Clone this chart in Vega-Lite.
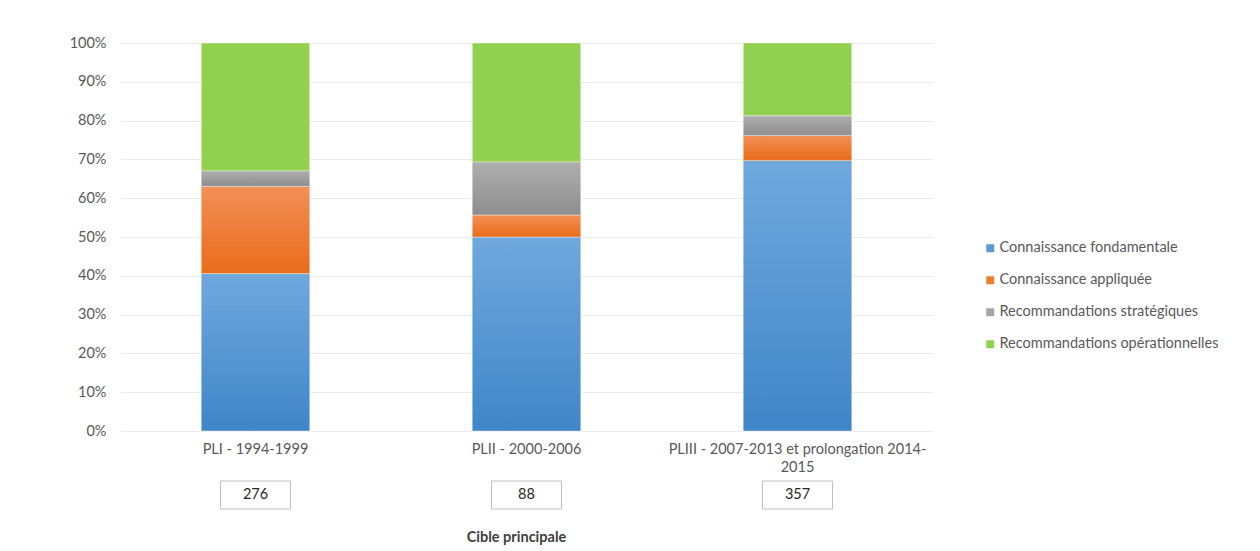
{
  "$schema": "https://vega.github.io/schema/vega-lite/v6.json",
  "width": 813,
  "height": 388,
  "autosize": "none",
  "padding": {"left": 120, "top": 43, "right": 327, "bottom": 120},
  "background": "#ffffff",
  "config": {
    "view": {"stroke": null},
    "font": "Lato",
    "axis": {"labelFont": "Lato", "titleFont": "Lato", "labelColor": "#595959", "titleColor": "#404040"},
    "axisY": {
      "title": null,
      "format": ".0%",
      "values": [0, 0.1, 0.2, 0.3, 0.4, 0.5, 0.6, 0.7, 0.8, 0.9, 1],
      "labelOverlap": false,
      "labelFontSize": 14.5,
      "labelPadding": 14,
      "ticks": false,
      "domain": false,
      "gridColor": "#ebebeb",
      "gridWidth": 1
    },
    "legend": {"labelFont": "Lato"}
  },
  "datasets": {
    "parts": [
      {"periode": "PLI - 1994-1999", "serie": "Connaissance fondamentale", "n": 112},
      {"periode": "PLI - 1994-1999", "serie": "Connaissance appliquée", "n": 62},
      {"periode": "PLI - 1994-1999", "serie": "Recommandations stratégiques", "n": 11},
      {"periode": "PLI - 1994-1999", "serie": "Recommandations opérationnelles", "n": 91},
      {"periode": "PLII - 2000-2006", "serie": "Connaissance fondamentale", "n": 44},
      {"periode": "PLII - 2000-2006", "serie": "Connaissance appliquée", "n": 5},
      {"periode": "PLII - 2000-2006", "serie": "Recommandations stratégiques", "n": 12},
      {"periode": "PLII - 2000-2006", "serie": "Recommandations opérationnelles", "n": 27},
      {"periode": "PLIII - 2007-2013 et prolongation 2014-2015", "serie": "Connaissance fondamentale", "n": 249},
      {"periode": "PLIII - 2007-2013 et prolongation 2014-2015", "serie": "Connaissance appliquée", "n": 23},
      {"periode": "PLIII - 2007-2013 et prolongation 2014-2015", "serie": "Recommandations stratégiques", "n": 18},
      {"periode": "PLIII - 2007-2013 et prolongation 2014-2015", "serie": "Recommandations opérationnelles", "n": 67}
    ],
    "totals": [
      {"periode": "PLI - 1994-1999", "total": 276},
      {"periode": "PLII - 2000-2006", "total": 88},
      {"periode": "PLIII - 2007-2013 et prolongation 2014-2015", "total": 357}
    ]
  },
  "encoding": {
    "x": {
      "field": "periode",
      "type": "nominal",
      "sort": null,
      "scale": {"paddingInner": 0.6, "paddingOuter": 0.3},
      "axis": {
        "title": "Cible principale",
        "titleFontWeight": "bold",
        "titleFontSize": 14.5,
        "titleX": 396,
        "titleY": 106,
        "titleBaseline": "middle",
        "labelAngle": 0,
        "labelFontSize": 14.5,
        "labelPadding": 11,
        "labelLimit": 400,
        "labelLineHeight": 18,
        "ticks": false,
        "domain": false,
        "grid": false,
        "labelExpr": "datum.label == 'PLIII - 2007-2013 et prolongation 2014-2015' ? ['PLIII - 2007-2013 et prolongation 2014-', '2015'] : datum.label"
      }
    }
  },
  "layer": [
    {
      "data": {"name": "parts"},
      "transform": [
        {"calculate": "indexof(['Connaissance fondamentale', 'Connaissance appliquée', 'Recommandations stratégiques', 'Recommandations opérationnelles'], datum.serie)", "as": "rang"}
      ],
      "mark": {"type": "bar", "stroke": "#ffffff", "strokeOpacity": 0.5, "strokeWidth": 0.8},
      "encoding": {
        "y": {
          "field": "n",
          "type": "quantitative",
          "stack": "normalize",
          "scale": {"domain": [0, 1]}
        },
        "color": {
          "field": "serie",
          "type": "nominal",
          "sort": ["Connaissance fondamentale", "Connaissance appliquée", "Recommandations stratégiques", "Recommandations opérationnelles"],
          "scale": {
            "domain": ["Connaissance fondamentale", "Connaissance appliquée", "Recommandations stratégiques", "Recommandations opérationnelles"],
            "range": ["#5b9bd5", "#ed7d31", "#a5a5a5", "#92d050"]
          },
          "legend": {
            "title": null,
            "orient": "none",
            "legendX": 863,
            "legendY": 198,
            "symbolType": "square",
            "symbolSize": 64,
            "symbolStrokeWidth": 0,
            "labelFontSize": 14.5,
            "labelColor": "#595959",
            "labelOffset": 2,
            "rowPadding": 17,
            "labelLimit": 300
          }
        },
        "order": {"field": "rang", "type": "quantitative"}
      }
    },
    {
      "data": {"name": "parts"},
      "transform": [
        {"calculate": "indexof(['Connaissance fondamentale', 'Connaissance appliquée', 'Recommandations stratégiques', 'Recommandations opérationnelles'], datum.serie)", "as": "rang"},
        {"stack": "n", "groupby": ["periode"], "sort": [{"field": "rang", "order": "ascending"}], "offset": "normalize", "as": ["y0", "y1"]},
        {"filter": "datum.serie == 'Connaissance fondamentale'"}
      ],
      "mark": {"type": "bar", "stroke": "#ffffff", "strokeOpacity": 0.5, "strokeWidth": 0.8,
        "color": {"gradient": "linear", "x1": 0, "y1": 0, "x2": 0, "y2": 1, "stops": [{"offset": 0, "color": "#70a8dd"}, {"offset": 1, "color": "#3f86c8"}]}},
      "encoding": {"y": {"field": "y0", "type": "quantitative"}, "y2": {"field": "y1"}}
    },
    {
      "data": {"name": "parts"},
      "transform": [
        {"calculate": "indexof(['Connaissance fondamentale', 'Connaissance appliquée', 'Recommandations stratégiques', 'Recommandations opérationnelles'], datum.serie)", "as": "rang"},
        {"stack": "n", "groupby": ["periode"], "sort": [{"field": "rang", "order": "ascending"}], "offset": "normalize", "as": ["y0", "y1"]},
        {"filter": "datum.serie == 'Connaissance appliquée'"}
      ],
      "mark": {"type": "bar", "stroke": "#ffffff", "strokeOpacity": 0.5, "strokeWidth": 0.8,
        "color": {"gradient": "linear", "x1": 0, "y1": 0, "x2": 0, "y2": 1, "stops": [{"offset": 0, "color": "#f28f57"}, {"offset": 1, "color": "#e96c1a"}]}},
      "encoding": {"y": {"field": "y0", "type": "quantitative"}, "y2": {"field": "y1"}}
    },
    {
      "data": {"name": "parts"},
      "transform": [
        {"calculate": "indexof(['Connaissance fondamentale', 'Connaissance appliquée', 'Recommandations stratégiques', 'Recommandations opérationnelles'], datum.serie)", "as": "rang"},
        {"stack": "n", "groupby": ["periode"], "sort": [{"field": "rang", "order": "ascending"}], "offset": "normalize", "as": ["y0", "y1"]},
        {"filter": "datum.serie == 'Recommandations stratégiques'"}
      ],
      "mark": {"type": "bar", "stroke": "#ffffff", "strokeOpacity": 0.5, "strokeWidth": 0.8,
        "color": {"gradient": "linear", "x1": 0, "y1": 0, "x2": 0, "y2": 1, "stops": [{"offset": 0, "color": "#aeaeae"}, {"offset": 1, "color": "#8e8e8e"}]}},
      "encoding": {"y": {"field": "y0", "type": "quantitative"}, "y2": {"field": "y1"}}
    },
    {
      "data": {"name": "totals"},
      "mark": {"type": "point", "shape": "M-1.25,-0.5H1.25V0.5H-1.25Z", "size": 3136, "filled": false, "fill": "#ffffff", "fillOpacity": 1, "stroke": "#bfbfbf", "strokeWidth": 1, "opacity": 1, "yOffset": 64},
      "encoding": {"y": {"datum": 0, "type": "quantitative"}}
    },
    {
      "data": {"name": "totals"},
      "mark": {"type": "text", "fontSize": 14.5, "color": "#262626", "yOffset": 64, "baseline": "middle"},
      "encoding": {
        "y": {"datum": 0, "type": "quantitative"},
        "text": {"field": "total", "type": "quantitative"}
      }
    }
  ]
}
